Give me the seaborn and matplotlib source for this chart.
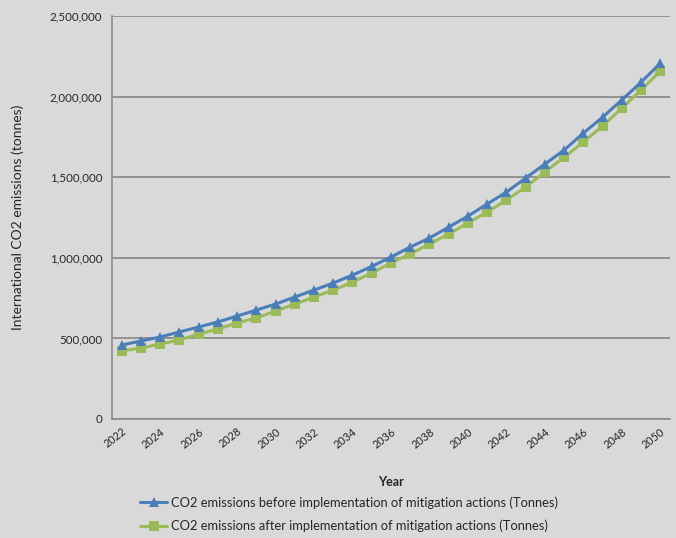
import numpy as np
import pandas as pd
import matplotlib
matplotlib.use("Agg")
import matplotlib.pyplot as plt
import seaborn as sns
from matplotlib.ticker import FuncFormatter

years = list(range(2022, 2051))

before = [459000, 484000, 509000, 540000, 571000, 602000, 639000, 676000,
          713000, 757000, 800000, 844000, 893000, 947000, 1005000, 1067000,
          1123000, 1191000, 1259000, 1334000, 1408000, 1495000, 1582000,
          1669000, 1774000, 1873000, 1980000, 2090000, 2208000]

after = [422000, 440000, 465000, 490000, 527000, 558000, 596000, 627000,
         670000, 713000, 757000, 800000, 850000, 906000, 968000, 1024000,
         1086000, 1148000, 1216000, 1284000, 1359000, 1439000, 1532000,
         1625000, 1718000, 1818000, 1929000, 2041000, 2159000]

label_before = "CO2 emissions before implementation of mitigation actions (Tonnes)"
label_after = "CO2 emissions after implementation of mitigation actions (Tonnes)"

df = pd.DataFrame({"year": years, "before": before, "after": after})

sns.set_style("white")
plt.rcParams["font.family"] = ["Lato", "DejaVu Sans"]

bg = "#d9d9d9"
fig = plt.figure(figsize=(6.76, 5.38), dpi=100, facecolor=bg)
ax = fig.add_axes([0.1657, 0.2212, 0.8253, 0.7488])
ax.set_facecolor(bg)

#---------------------------lines------------------------------
sns.lineplot(data=df, x="year", y="before", ax=ax, color="#4a7ebb",
             linewidth=2.2, marker="^", markersize=7, markeredgewidth=0,
             label=label_before, zorder=4)
sns.lineplot(data=df, x="year", y="after", ax=ax, color="#9bbb59",
             linewidth=2.2, marker="s", markersize=7.5, markeredgewidth=0,
             label=label_after, zorder=3)

#---------------------------axes-------------------------------
ax.set_ylim(0, 2500000)
ax.set_xlim(2021.5, 2050.5)
ax.set_yticks(np.arange(0, 2500001, 500000))
ax.yaxis.set_major_formatter(FuncFormatter(lambda v, p: f"{int(v):,}"))
ax.grid(axis="y", color="#8c8c8c", linewidth=1.3)
ax.set_axisbelow(True)

ax.set_xticks(years[::2])
ax.set_xticks([y - 0.5 for y in years] + [2050.5], minor=True)
ax.tick_params(axis="x", which="major", length=0, labelsize=7.8, pad=5)
ax.tick_params(axis="x", which="minor", length=4, color="#8c8c8c", width=1)
ax.tick_params(axis="y", length=4, color="#8c8c8c", width=1, labelsize=8.3, pad=3)
for lab in ax.get_xticklabels():
    lab.set_rotation(38)
    lab.set_ha("right")
    lab.set_rotation_mode("anchor")

for s in ["top", "right"]:
    ax.spines[s].set_visible(False)
for s in ["left", "bottom"]:
    ax.spines[s].set_color("#8c8c8c")
    ax.spines[s].set_linewidth(1.2)

ax.set_xlabel("")
ax.set_ylabel("International CO2 emissions (tonnes)", fontsize=10)
ax.yaxis.set_label_coords(-0.157, 0.5)
fig.text(0.578, 0.105, "Year", ha="center", va="center", fontsize=9,
         fontweight="bold")

ax.get_legend().remove()
handles, labels = ax.get_legend_handles_labels()
fig.legend(handles, labels, loc="upper left", bbox_to_anchor=(0.2, 0.087),
           frameon=False, fontsize=9.3, handlelength=2.1, handletextpad=0.3,
           labelspacing=0.85, borderaxespad=0)

fig.savefig("out.png", dpi=100, facecolor=bg)
